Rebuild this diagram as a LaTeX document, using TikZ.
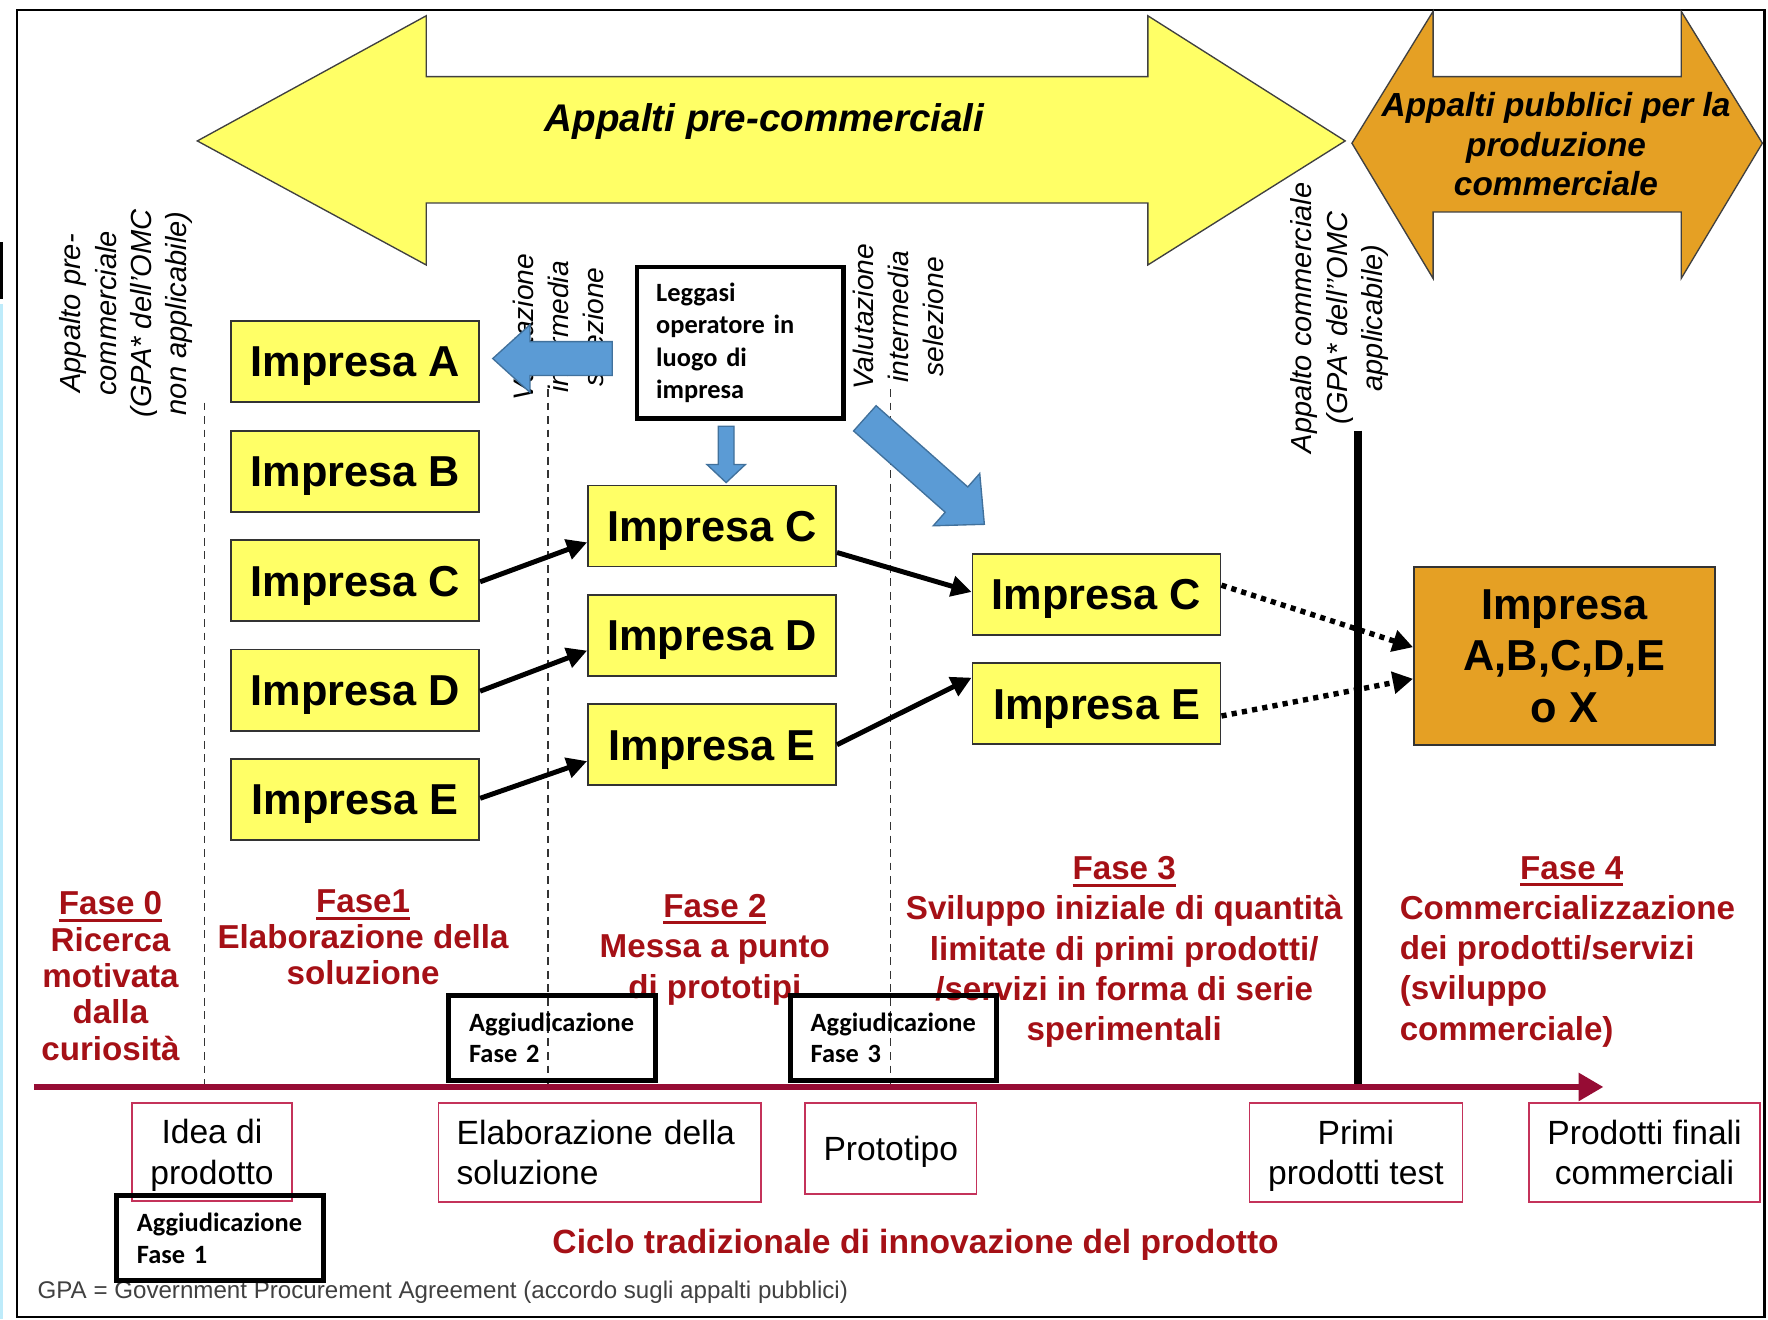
\documentclass[tikz,border=0pt]{standalone}
\usepackage{fontspec}
\setmainfont{Liberation Sans}
\newfontfamily\calib{Carlito}
\usetikzlibrary{arrows.meta,calc}
\definecolor{yfill}{RGB}{255,255,102}
\definecolor{ofill}{RGB}{229,160,36}
\definecolor{bfill}{RGB}{91,155,213}
\definecolor{bline}{RGB}{65,113,156}
\definecolor{dred}{RGB}{165,16,22}
\definecolor{tline}{RGB}{150,12,52}
\definecolor{pbox}{RGB}{196,50,90}
\definecolor{lcyan}{RGB}{190,235,250}
\newcommand\fasettl[1]{\setbox0\hbox{#1}\rlap{\rule[-3.2pt]{\wd0}{1.3pt}}\box0}
\begin{document}
\begin{tikzpicture}[x=0.5pt,y=-0.5pt,
  impbox/.style={draw=black!80, line width=0.8pt, fill=yfill, minimum width=110pt, minimum height=36pt, inner sep=0pt, text height=13.75pt, text depth=0pt, font=\fontsize{19.2}{23}\selectfont\bfseries},
  conn/.style={line width=2.2pt, -{Triangle[length=9pt,width=9pt]}},
  dotconn/.style={line width=2.4pt, dash pattern=on 2.3pt off 2.3pt, -{Triangle[length=9pt,width=9.5pt]}},
  barrow/.style={fill=bfill, draw=bline, line width=0.6pt},
  rot/.style={rotate=90, align=center, inner sep=0pt},
  dline/.style={black!80, line width=0.5pt, dash pattern=on 3.5pt off 2.5pt},
  redtxt/.style={text=dred, align=center, inner sep=0pt},
  pbx/.style={draw=pbox, line width=0.7pt, align=center, inner sep=0pt, font=\fontsize{14.9}{18}\selectfont},
  agbox/.style={draw=black, line width=2.2pt, text width=73.5pt, inner xsep=9pt, inner ysep=0pt, minimum height=37.5pt, align=left, font=\calib\bfseries\fontsize{11.7}{14}\selectfont}
]
\useasboundingbox (0,0) rectangle (1568,1170);
% scan artefacts at the left edge
\fill[lcyan] (0,270) rectangle (3,1170);
\fill[black] (0,215) rectangle (3,265);
% frame
\draw[line width=1.2pt] (15,9) rectangle (1565,1168);
% big arrows
\draw[fill=yfill, draw=black!75, line width=0.6pt] (175,125) -- (378,14) -- (378,68) -- (1018,68) -- (1018,14) -- (1193,125) -- (1018,235) -- (1018,180) -- (378,180) -- (378,235) -- cycle;
\node[font=\fontsize{17.1}{20}\selectfont\bfseries\itshape] (ytxt) at (678,108) {Appalti pre-commerciali};
\draw[fill=ofill, draw=black!75, line width=0.6pt] (1199,127) -- (1271,10) -- (1271,68) -- (1491,68) -- (1491,10) -- (1563,127) -- (1491,247) -- (1491,188) -- (1271,188) -- (1271,247) -- cycle;
\node[align=center, font=\fontsize{14.8}{17.5}\selectfont\bfseries\itshape] (otxt) at (1380,128) {Appalti pubblici per la\\produzione\\commerciale};
% rotated labels
\node[rot, font=\fontsize{12.9}{15.7}\selectfont\itshape] (r1) at (112,278) {Appalto pre-\\commerciale\\(GPA* dell’OMC\\non applicabile)};
\node[rot, font=\fontsize{12.5}{15.5}\selectfont\itshape] (r2) at (495,290) {Valutazione\\intermedia\\selezione};
\node[rot, font=\fontsize{12.5}{15.5}\selectfont\itshape] (r3) at (797,281) {Valutazione\\intermedia\\selezione};
\node[rot, font=\fontsize{12.85}{15.7}\selectfont\itshape] (r4) at (1188,282) {Appalto commerciale\\(GPA* dell’’OMC\\applicabile)};
% dashed separators
\draw[dline] (181,357) -- (181,962);
\draw[dline] (486,345) -- (486,962);
\draw[dline] (790,345) -- (790,962);
% blue block arrows
\draw[barrow] (543,303) -- (470,303) -- (470,288) -- (437,318) -- (470,348) -- (470,333) -- (543,333) -- cycle;
\draw[barrow] (637,378) -- (651,378) -- (651,412) -- (661,412) -- (644,428) -- (627,412) -- (637,412) -- cycle;
\draw[barrow] (777,359.8) -- (858.3,431.9) -- (868.9,419.9) -- (873,465) -- (827.7,466.3) -- (838.3,454.3) -- (757,382.2) -- cycle;
% Leggasi box
\node[draw=black, line width=2pt, fill=white, text width=74.5pt, inner xsep=8.5pt, inner ysep=0pt, minimum height=67pt, align=left, font=\calib\bfseries\fontsize{11.7}{14.25}\selectfont] (legg) at (656.5,304) {Leggasi\\operatore in\\luogo di\\impresa};
% Impresa boxes
\node[impbox] (a1) at (315,320.5) {Impresa A};
\node[impbox] (b1) at (315,418) {Impresa B};
\node[impbox] (c1) at (315,515) {Impresa C};
\node[impbox] (d1) at (315,612) {Impresa D};
\node[impbox] (e1) at (315,709) {Impresa E};
\node[impbox] (c2) at (631.5,466.5) {Impresa C};
\node[impbox] (d2) at (631.5,563.5) {Impresa D};
\node[impbox] (e2) at (631.5,660.5) {Impresa E};
\node[impbox] (c3) at (972.5,527) {Impresa C};
\node[impbox] (e3) at (972.5,624) {Impresa E};
\node[draw=black!80, line width=0.8pt, fill=ofill, minimum width=133.5pt, minimum height=79pt, align=center, inner sep=0pt, font=\fontsize{19.2}{22.75}\selectfont\bfseries] (ox) at (1387.5,582) {Impresa\\A,B,C,D,E\\o X};
% thick vertical line
\coordinate (vt) at (1204,382);
\coordinate (vb) at (1204,962);
\draw[line width=3.5pt] (vt) -- (vb);
% connectors
\draw[conn] ($(c1.east)+(0,1)$) -- ($(c2.west)+(0,14.5)$);
\draw[conn] ($(d1.east)+(0,1)$) -- ($(d2.west)+(0,13.5)$);
\draw[conn] ($(e1.east)+(0,-1)$) -- ($(e2.west)+(0,14.5)$);
\draw[conn] ($(c2.east)+(0,23.5)$) -- ($(c3.west)+(0,-2)$);
\draw[conn] ($(e2.east)+(0,0)$) -- ($(e3.west)+(0,-23)$);
\draw[dotconn] ($(c3.east)+(0,-8)$) -- ($(ox.west)+(0,-8)$);
\draw[dotconn] ($(e3.east)+(0,11)$) -- ($(ox.west)+(0,20)$);
% phase texts
\node[redtxt, anchor=north, font=\fontsize{14.7}{16.1}\selectfont\bfseries] (f0) at (98,790.5) {\fasettl{Fase 0}\\Ricerca\\motivata\\dalla\\curiosità};
\node[redtxt, anchor=north, font=\fontsize{14.7}{16}\selectfont\bfseries] (f1) at (322,788.5) {\fasettl{Fase1}\\Elaborazione della\\soluzione};
\node[redtxt, anchor=north, font=\fontsize{14.7}{18}\selectfont\bfseries] (f2) at (634,792.5) {\fasettl{Fase 2}\\Messa a punto\\di prototipi};
\node[redtxt, anchor=north, font=\fontsize{14.7}{17.9}\selectfont\bfseries] (f3) at (997,759) {\fasettl{Fase 3}\\Sviluppo iniziale di quantità\\limitate di primi prodotti/\\/servizi in forma di serie\\sperimentali};
\node[redtxt, anchor=north, font=\fontsize{14.7}{17.9}\selectfont\bfseries] (f4) at (1394,759) {\fasettl{Fase 4}};
\node[redtxt, align=left, anchor=north west, font=\fontsize{14.7}{17.9}\selectfont\bfseries] (f4b) at (1241,793.5) {Commercializzazione\\dei prodotti/servizi\\(sviluppo\\commerciale)};
% timeline
\coordinate (tls) at (30,964);
\coordinate (tle) at (1422,964);
\draw[tline, line width=2.5pt, -{Triangle[length=11pt,width=12pt]}] (tls) -- (tle);
% bottom boxes
\node[pbx, text depth=0pt, minimum width=71pt, minimum height=43.5pt] (idea) at (188,1021.5) {Idea di\\prodotto};
\node[pbx, align=left, text width=127pt, inner xsep=8pt, minimum height=44pt] (elab) at (532,1022) {Elaborazione della\\soluzione};
\node[pbx, text depth=0pt, minimum width=76pt, minimum height=40.5pt] (proto) at (790,1018.5) {Prototipo};
\node[pbx, text depth=0pt, minimum width=94.5pt, minimum height=44pt] (primi) at (1202.5,1022) {Primi\\prodotti test};
\node[pbx, text depth=0pt, minimum width=102.5pt, minimum height=44pt] (finali) at (1458.5,1022) {Prodotti finali\\commerciali};
% captions
\node[text=dred, inner sep=0pt, text depth=0pt, font=\fontsize{14.9}{18}\selectfont\bfseries] (ciclo) at (812,1101) {Ciclo tradizionale di innovazione del prodotto};
\node[anchor=west, inner sep=0pt, text=black!75, font=\fontsize{10.7}{13}\selectfont] (gpa) at (33,1146) {GPA = Government Procurement Agreement (accordo sugli appalti pubblici)};
% award boxes
\node[agbox] (ag1) at (195,1098) {Aggiudicazione\\Fase 1};
\node[agbox] (ag2) at (489.5,920.5) {Aggiudicazione\\Fase 2};
\node[agbox] (ag3) at (792.5,920.5) {Aggiudicazione\\Fase 3};
\end{tikzpicture}
\end{document}
